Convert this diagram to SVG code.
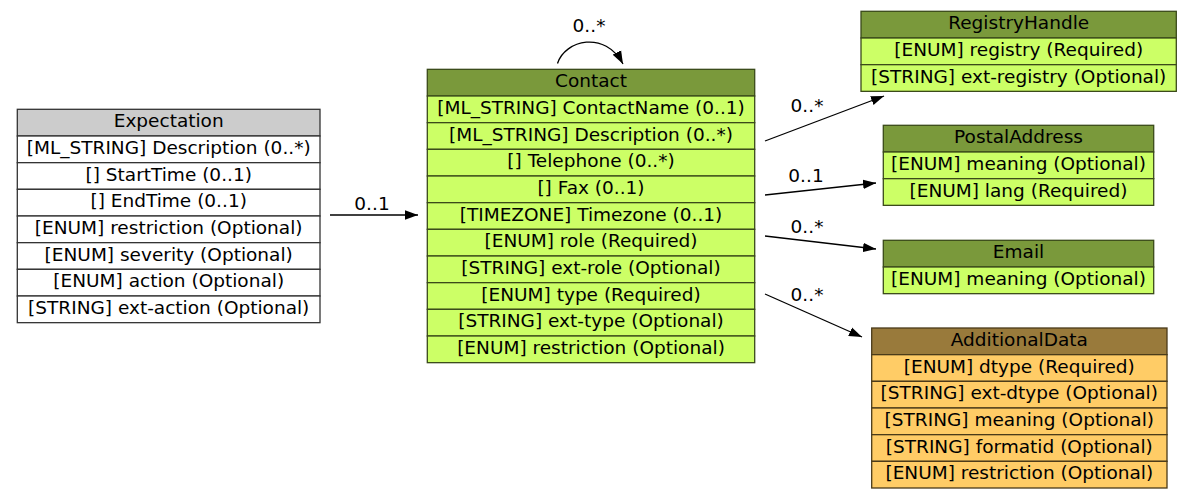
<svg xmlns="http://www.w3.org/2000/svg" width="1192" height="499" viewBox="0 0 1192 499">
<style>
text{font-family:"DejaVu Sans","Liberation Sans",sans-serif;font-size:18.5px;fill:#000;text-anchor:middle}
.b{stroke:#333;stroke-width:1.3}
.hg{fill:#7a993b}.rg{fill:#ccff66}
.ho{fill:#997a3b}.ro{fill:#ffcc66}
.hx{fill:#cccccc}.rx{fill:#ffffff}
.g rect{stroke:#3a4a1a}
.o rect{stroke:#4a3a1a}
.e{fill:none;stroke:#000;stroke-width:1.3}
</style>
<defs>
<marker id="a" markerUnits="userSpaceOnUse" markerWidth="14" markerHeight="10" refX="13" refY="5" orient="auto">
<path d="M0,0.3 L13,5 L0,9.7 Z" fill="#000"/>
</marker>
</defs>
<g id="edges">
<path class="e" d="M330,215 L418,215" marker-end="url(#a)"/>
<text x="372" y="210">0..1</text>
<path class="e" d="M557.5,63.5 C565,40 605,30 623,64" marker-end="url(#a)"/>
<text x="589" y="32">0..*</text>
<path class="e" d="M765,141 L884,96" marker-end="url(#a)"/>
<text x="807" y="112">0..*</text>
<path class="e" d="M765,195 L876,183" marker-end="url(#a)"/>
<text x="806" y="182">0..1</text>
<path class="e" d="M765,236 L876,249" marker-end="url(#a)"/>
<text x="807" y="233">0..*</text>
<path class="e" d="M765,294 L862,337" marker-end="url(#a)"/>
<text x="807" y="301">0..*</text>
</g>
<g id="Expectation">
<rect class="b hx" x="17.3" y="109.3" width="302.7" height="26.67"/>
<rect class="b rx" x="17.3" y="136" width="302.7" height="26.67"/>
<rect class="b rx" x="17.3" y="162.67" width="302.7" height="26.67"/>
<rect class="b rx" x="17.3" y="189.33" width="302.7" height="26.67"/>
<rect class="b rx" x="17.3" y="216" width="302.7" height="26.67"/>
<rect class="b rx" x="17.3" y="242.67" width="302.7" height="26.67"/>
<rect class="b rx" x="17.3" y="269.33" width="302.7" height="26.67"/>
<rect class="b rx" x="17.3" y="296" width="302.7" height="26.67"/>
<text x="168.7" y="127.3">Expectation</text>
<text x="168.7" y="154">[ML_STRING] Description (0..*)</text>
<text x="168.7" y="180.7">[] StartTime (0..1)</text>
<text x="168.7" y="207.3">[] EndTime (0..1)</text>
<text x="168.7" y="234">[ENUM] restriction (Optional)</text>
<text x="168.7" y="260.7">[ENUM] severity (Optional)</text>
<text x="168.7" y="287.3">[ENUM] action (Optional)</text>
<text x="168.7" y="314">[STRING] ext-action (Optional)</text>
</g>
<g id="Contact" class="g">
<rect class="b hg" x="427.3" y="69.33" width="327.4" height="26.67"/>
<rect class="b rg" x="427.3" y="96" width="327.4" height="26.67"/>
<rect class="b rg" x="427.3" y="122.67" width="327.4" height="26.67"/>
<rect class="b rg" x="427.3" y="149.33" width="327.4" height="26.67"/>
<rect class="b rg" x="427.3" y="176" width="327.4" height="26.67"/>
<rect class="b rg" x="427.3" y="202.67" width="327.4" height="26.67"/>
<rect class="b rg" x="427.3" y="229.33" width="327.4" height="26.67"/>
<rect class="b rg" x="427.3" y="256" width="327.4" height="26.67"/>
<rect class="b rg" x="427.3" y="282.67" width="327.4" height="26.67"/>
<rect class="b rg" x="427.3" y="309.33" width="327.4" height="26.67"/>
<rect class="b rg" x="427.3" y="336" width="327.4" height="26.67"/>
<text x="591" y="87.3">Contact</text>
<text x="591" y="114">[ML_STRING] ContactName (0..1)</text>
<text x="591" y="140.7">[ML_STRING] Description (0..*)</text>
<text x="591" y="167.3">[] Telephone (0..*)</text>
<text x="591" y="194">[] Fax (0..1)</text>
<text x="591" y="220.7">[TIMEZONE] Timezone (0..1)</text>
<text x="591" y="247.3">[ENUM] role (Required)</text>
<text x="591" y="274">[STRING] ext-role (Optional)</text>
<text x="591" y="300.7">[ENUM] type (Required)</text>
<text x="591" y="327.3">[STRING] ext-type (Optional)</text>
<text x="591" y="354">[ENUM] restriction (Optional)</text>
</g>
<g id="RegistryHandle" class="g">
<rect class="b hg" x="861" y="11.3" width="315.3" height="26.67"/>
<rect class="b rg" x="861" y="38" width="315.3" height="26.67"/>
<rect class="b rg" x="861" y="64.67" width="315.3" height="26.67"/>
<text x="1018.7" y="29.3">RegistryHandle</text>
<text x="1018.7" y="56">[ENUM] registry (Required)</text>
<text x="1018.7" y="82.7">[STRING] ext-registry (Optional)</text>
</g>
<g id="PostalAddress" class="g">
<rect class="b hg" x="883.3" y="125.3" width="270.4" height="26.67"/>
<rect class="b rg" x="883.3" y="152" width="270.4" height="26.67"/>
<rect class="b rg" x="883.3" y="178.67" width="270.4" height="26.67"/>
<text x="1018.5" y="143.3">PostalAddress</text>
<text x="1018.5" y="170">[ENUM] meaning (Optional)</text>
<text x="1018.5" y="196.7">[ENUM] lang (Required)</text>
</g>
<g id="Email" class="g">
<rect class="b hg" x="883.3" y="240.3" width="270.4" height="26.67"/>
<rect class="b rg" x="883.3" y="267" width="270.4" height="26.67"/>
<text x="1018.5" y="258.3">Email</text>
<text x="1018.5" y="285">[ENUM] meaning (Optional)</text>
</g>
<g id="AdditionalData" class="o">
<rect class="b ho" x="871.7" y="328" width="295.3" height="26.67"/>
<rect class="b ro" x="871.7" y="354.67" width="295.3" height="26.67"/>
<rect class="b ro" x="871.7" y="381.33" width="295.3" height="26.67"/>
<rect class="b ro" x="871.7" y="408" width="295.3" height="26.67"/>
<rect class="b ro" x="871.7" y="434.67" width="295.3" height="26.67"/>
<rect class="b ro" x="871.7" y="461.33" width="295.3" height="26.67"/>
<text x="1019.3" y="346">AdditionalData</text>
<text x="1019.3" y="372.7">[ENUM] dtype (Required)</text>
<text x="1019.3" y="399.3">[STRING] ext-dtype (Optional)</text>
<text x="1019.3" y="426">[STRING] meaning (Optional)</text>
<text x="1019.3" y="452.7">[STRING] formatid (Optional)</text>
<text x="1019.3" y="479.3">[ENUM] restriction (Optional)</text>
</g>
</svg>
